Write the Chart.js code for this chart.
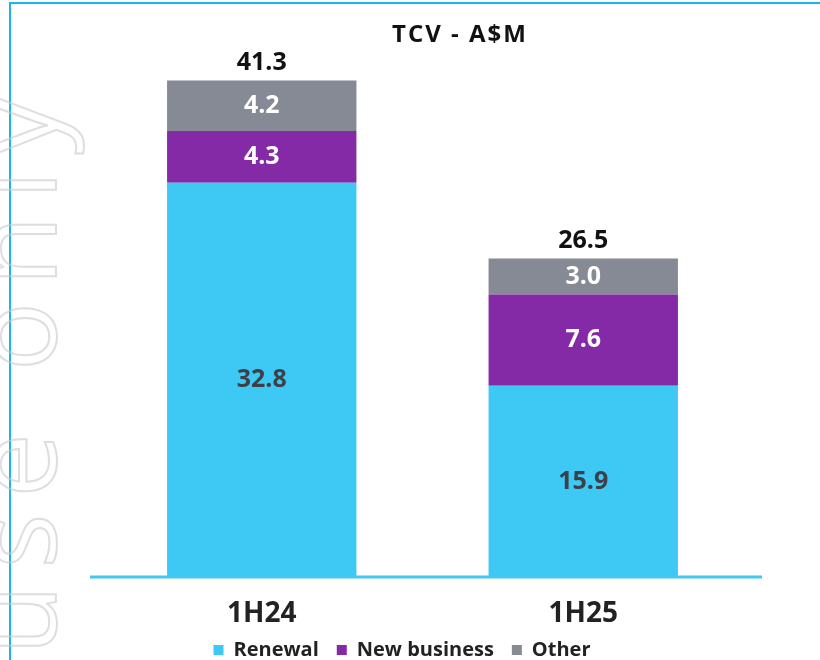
<!DOCTYPE html>
<html>
<head>
<meta charset="utf-8">
<script src="https://cdn.jsdelivr.net/npm/chart.js@4"></script>
<style>
  html, body { margin: 0; padding: 0; background: #fff; }
  #wrap { position: relative; width: 820px; height: 660px; overflow: hidden; }
  #frame {
    position: absolute; left: 9px; top: 2px; width: 820px; height: 670px;
    border-top: 2px solid #1bb4ee; border-left: 2px solid #1bb4ee;
  }
  #mark {
    position: absolute; left: -46px; top: 655px;
    transform-origin: 0 0; transform: rotate(-90deg);
    font-family: "Open Sans", sans-serif; font-size: 115px; line-height: 1;
    letter-spacing: 16px; white-space: nowrap;
    color: transparent; -webkit-text-stroke: 2px rgba(200, 200, 200, 0.6);
    pointer-events: none;
  }
  #box { position: absolute; left: 0; top: 0; width: 820px; height: 660px; }
</style>
</head>
<body>
<div id="wrap">
  <div id="box"><canvas id="tcvChart"></canvas></div>
  <div id="frame"></div>
  <div id="mark">use only</div>
</div>
<script>
const chartTitle = "TCV - A$M";
const categories = ["1H24", "1H25"];
const renewal = [32.8, 15.9];
const newBusiness = [4.3, 7.6];
const other = [4.2, 3.0];
const totals = [41.3, 26.5];

const FONT = "'Open Sans', 'Liberation Sans', sans-serif";

// title, axis line and value labels
const decorations = {
  id: "decorations",
  afterDatasetsDraw(chart) {
    const ctx = chart.ctx;
    const area = chart.chartArea;
    ctx.save();

    ctx.strokeStyle = "#45c6f1";
    ctx.lineWidth = 3;
    ctx.beginPath();
    ctx.moveTo(90, area.bottom);
    ctx.lineTo(762, area.bottom);
    ctx.stroke();

    ctx.textAlign = "center";
    ctx.textBaseline = "middle";
    ctx.fillStyle = "#111";
    ctx.font = "bold 24px " + FONT;
    ctx.letterSpacing = "2px";
    ctx.fillText(chartTitle, 460, 35);
    ctx.letterSpacing = "0px";

    ctx.font = "bold 25px " + FONT;
    chart.data.datasets.forEach((ds, i) => {
      const meta = chart.getDatasetMeta(i);
      meta.data.forEach((bar, j) => {
        ctx.fillStyle = i === 0 ? "#3d3f49" : "#ffffff";
        ctx.fillText(ds.data[j].toFixed(1), bar.x, (bar.y + bar.base) / 2);
      });
    });

    const top = chart.getDatasetMeta(chart.data.datasets.length - 1);
    ctx.fillStyle = "#111";
    top.data.forEach((bar, j) => {
      ctx.fillText(totals[j].toFixed(1), bar.x, bar.y - 18);
    });
    ctx.restore();
  }
};

new Chart(document.getElementById("tcvChart"), {
  type: "bar",
  data: {
    labels: categories,
    datasets: [
      { label: "Renewal", data: renewal, backgroundColor: "#3dc9f3" },
      { label: "New business", data: newBusiness, backgroundColor: "#842aa7" },
      { label: "Other", data: other, backgroundColor: "#868a94" }
    ]
  },
  options: {
    responsive: true,
    maintainAspectRatio: false,
    animation: false,
    layout: { padding: { left: 60, right: 76, top: 36, bottom: -10 } },
    datasets: { bar: { categoryPercentage: 1, barPercentage: 0.589 } },
    scales: {
      x: {
        stacked: true,
        grid: { display: false, drawTicks: false },
        border: { display: false },
        ticks: { padding: 20, color: "#222", font: { family: FONT, size: 28, weight: "bold" } },
        afterFit(scale) { scale.height = 45; }
      },
      y: {
        stacked: true,
        min: 0,
        max: 45,
        grid: { display: false, drawTicks: false },
        border: { display: false },
        ticks: { display: false },
        afterFit(scale) { scale.width = 41; }
      }
    },
    plugins: {
      tooltip: { enabled: false },
      legend: {
        position: "bottom",
        labels: {
          boxWidth: 10,
          boxHeight: 10,
          padding: 18,
          color: "#222",
          font: { family: FONT, size: 20, weight: "bold" }
        }
      }
    }
  },
  plugins: [decorations]
});
</script>
</body>
</html>
